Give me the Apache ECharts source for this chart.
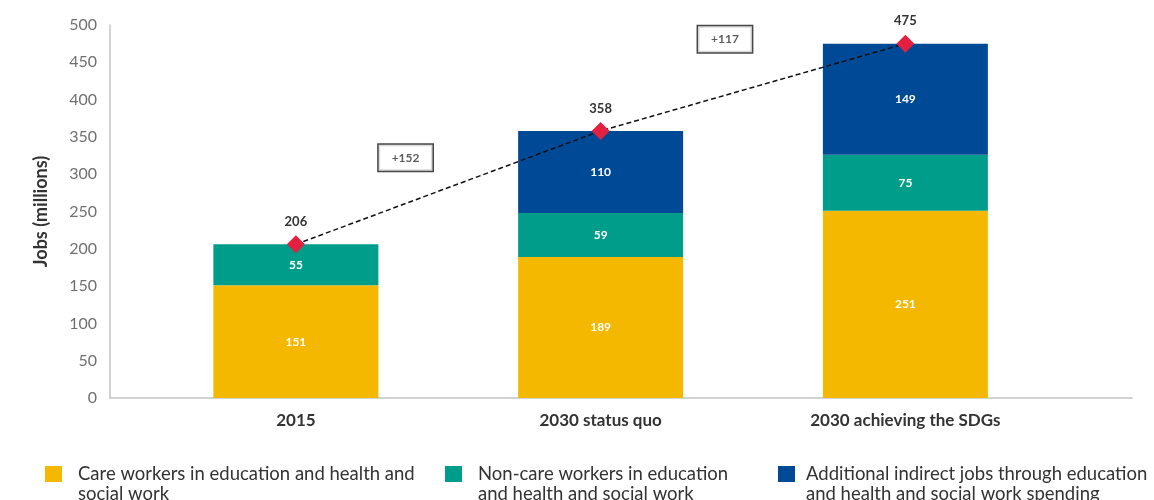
<!DOCTYPE html>
<html>
<head>
<meta charset="utf-8">
<style>
  html, body { margin: 0; padding: 0; background: #fff; }
  #chart { width: 1154px; height: 500px; }
</style>
<script src="https://cdn.jsdelivr.net/npm/echarts@6/dist/echarts.min.js"></script>
</head>
<body>
<div id="chart"></div>
<script>
// Jobs in education, health and social work (millions)
const categories = ['2015', '2030 status quo', '2030 achieving the SDGs'];
const careWorkers = [151, 189, 251];
const nonCareWorkers = [55, 59, 75];
const indirectJobs = [null, 110, 149];
const totals = [206, 358, 475];
const yTicks = [0, 50, 100, 150, 200, 250, 300, 350, 400, 450, 500];
const seriesNames = [
  'Care workers in education and health and\nsocial work',
  'Non-care workers in education\nand health and social work',
  'Additional indirect jobs through education\nand health and social work spending'
];

const COLORS = ['#F4B800', '#009E8A', '#004996'];
const FONT = 'Lato, "Open Sans", sans-serif';

// Increase boxes placed between the bars (x in category units, y in millions)
const increases = [
  { x: 0.86, y: 322, text: '+' + (totals[1] - totals[0]) },
  { x: 1.908, y: 481, text: '+' + (totals[2] - totals[1]) }
];

const chart = echarts.init(document.getElementById('chart'));

const barLabel = {
  show: true,
  position: 'inside',
  color: '#fff',
  fontFamily: FONT,
  fontWeight: 'bold',
  fontSize: 12,
  formatter: p => (p.value == null ? '' : p.value)
};

// One legend block per series; a blank first line keeps the icon level with the first text line
function legendAt(left, name, gap) {
  return {
    data: [name],
    left: left,
    top: 444,
    padding: 0,
    orient: 'horizontal',
    icon: 'rect',
    itemWidth: 17,
    itemHeight: 16,
    selectedMode: false,
    formatter: n => ' \n' + n,
    textStyle: {
      fontFamily: FONT,
      fontSize: 18.5,
      color: '#333',
      lineHeight: 20,
      padding: [0, 0, 0, gap]
    }
  };
}

chart.setOption({
  animation: false,
  backgroundColor: '#fff',
  grid: [
    { left: 143.5, right: 96.25, top: 25, bottom: 102 },
    { left: 110, right: 22, top: 25, bottom: 102 }
  ],
  legend: [
    legendAt(45, seriesNames[0], 11),
    legendAt(445, seriesNames[1], 11),
    legendAt(778, seriesNames[2], 6)
  ],
  xAxis: [
    {
      type: 'category',
      gridIndex: 0,
      data: categories,
      axisLine: { show: false },
      axisTick: { show: false },
      axisLabel: {
        margin: 14,
        fontFamily: FONT,
        fontWeight: 'bold',
        fontSize: 17,
        color: '#333'
      }
    },
    {
      type: 'value',
      gridIndex: 0,
      min: 0,
      max: 3,
      show: false
    },
    {
      type: 'value',
      gridIndex: 1,
      min: 0,
      max: 1,
      position: 'bottom',
      axisLine: { show: true, onZero: false, lineStyle: { color: '#c4c4c4', width: 1.5 } },
      axisTick: { show: false },
      axisLabel: { show: false },
      splitLine: { show: false }
    }
  ],
  yAxis: [
    {
      type: 'value',
      gridIndex: 0,
      min: yTicks[0],
      max: yTicks[yTicks.length - 1],
      interval: yTicks[1] - yTicks[0],
      offset: 33.5,
      name: 'Jobs (millions)',
      nameLocation: 'middle',
      nameGap: 60,
      nameTextStyle: {
        fontFamily: FONT,
        fontWeight: 'bold',
        fontSize: 18,
        color: '#333'
      },
      axisLine: { show: false },
      axisTick: { show: false },
      splitLine: { show: false },
      axisLabel: {
        margin: 13,
        fontFamily: FONT,
        fontSize: 16,
        color: '#707070'
      }
    },
    {
      type: 'value',
      gridIndex: 1,
      min: 0,
      max: 1,
      position: 'left',
      axisLine: { show: true, onZero: false, lineStyle: { color: '#c4c4c4', width: 1.5 } },
      axisTick: { show: false },
      axisLabel: { show: false },
      splitLine: { show: false }
    }
  ],
  series: [
    {
      name: seriesNames[0],
      type: 'bar',
      stack: 'jobs',
      barWidth: 165,
      data: careWorkers,
      itemStyle: { color: COLORS[0] },
      label: barLabel
    },
    {
      name: seriesNames[1],
      type: 'bar',
      stack: 'jobs',
      barWidth: 165,
      data: nonCareWorkers,
      itemStyle: { color: COLORS[1] },
      label: barLabel
    },
    {
      name: seriesNames[2],
      type: 'bar',
      stack: 'jobs',
      barWidth: 165,
      data: indirectJobs,
      itemStyle: { color: COLORS[2] },
      label: barLabel
    },
    {
      name: 'Total',
      type: 'line',
      data: totals,
      z: 5,
      symbol: 'diamond',
      symbolSize: 18,
      itemStyle: { color: '#E3203F' },
      lineStyle: { color: '#111', width: 1.5, type: [5, 3] },
      label: {
        show: true,
        position: 'top',
        distance: 7,
        fontFamily: FONT,
        fontWeight: 'bold',
        fontSize: 13,
        color: '#333'
      }
    },
    {
      name: 'Increase',
      type: 'scatter',
      xAxisIndex: 1,
      yAxisIndex: 0,
      z: 6,
      symbolSize: 1,
      itemStyle: { color: 'rgba(0,0,0,0)' },
      data: increases.map(d => ({ value: [d.x, d.y], label: { formatter: d.text } })),
      label: {
        show: true,
        position: 'inside',
        fontFamily: FONT,
        fontWeight: 'bold',
        fontSize: 12,
        color: '#333',
        backgroundColor: '#fff',
        borderColor: '#1a1a1a',
        borderWidth: 1.5,
        padding: [7, 13]
      }
    }
  ]
});
</script>
</body>
</html>
